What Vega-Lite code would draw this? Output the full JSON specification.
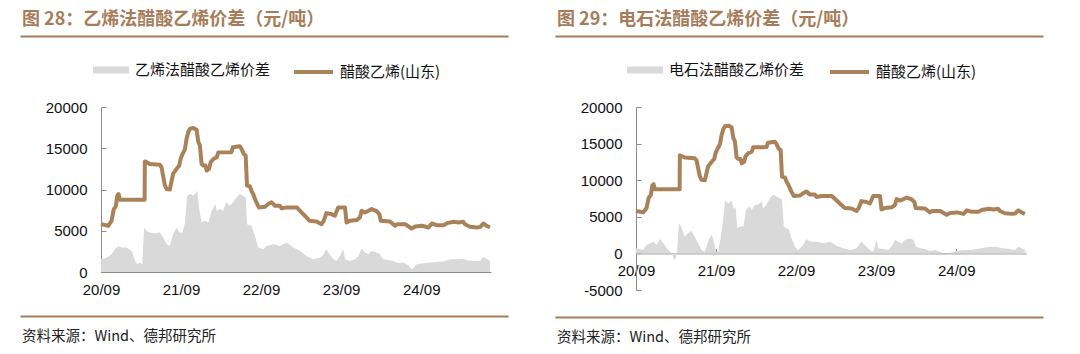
{
  "$schema": "https://vega.github.io/schema/vega-lite/v6.json",
  "background": "white",
  "padding": {"left": 20, "top": 10, "right": 0, "bottom": 0},
  "config": {
    "view": {"stroke": null},
    "font": "Noto Sans CJK SC",
    "axis": {
      "grid": false,
      "title": null,
      "labelFont": "Liberation Sans",
      "labelFontSize": 15,
      "labelColor": "#111111",
      "domainColor": "#8c8c8c",
      "tickColor": "#8c8c8c",
      "tickSize": -5,
      "labelFlush": false,
      "labelOverlap": false,
      "titlePadding": 0
    },
    "legend": {
      "orient": "none",
      "title": null,
      "padding": 0,
      "labelFont": "Noto Sans CJK SC",
      "labelFontSize": 15,
      "labelColor": "#111111",
      "labelLimit": 400
    }
  },
  "datasets": {
    "price": [
      {"date": "2020-09-01", "v": 5800}, {"date": "2020-10-04", "v": 5600}, {"date": "2020-10-19", "v": 6200},
      {"date": "2020-10-29", "v": 7600}, {"date": "2020-11-08", "v": 8000}, {"date": "2020-11-14", "v": 9250},
      {"date": "2020-11-20", "v": 9450}, {"date": "2020-11-26", "v": 8760}, {"date": "2021-03-19", "v": 8760},
      {"date": "2021-03-20", "v": 13400}, {"date": "2021-03-29", "v": 13300}, {"date": "2021-04-11", "v": 13100},
      {"date": "2021-05-27", "v": 13000}, {"date": "2021-06-04", "v": 12700}, {"date": "2021-06-11", "v": 11700},
      {"date": "2021-06-19", "v": 10550}, {"date": "2021-06-27", "v": 10060}, {"date": "2021-07-12", "v": 10000},
      {"date": "2021-07-19", "v": 10900}, {"date": "2021-07-27", "v": 11900}, {"date": "2021-08-12", "v": 12500},
      {"date": "2021-08-24", "v": 12900}, {"date": "2021-08-30", "v": 13700}, {"date": "2021-09-08", "v": 14300},
      {"date": "2021-09-19", "v": 14900}, {"date": "2021-09-26", "v": 16100}, {"date": "2021-10-04", "v": 16950},
      {"date": "2021-10-12", "v": 17360}, {"date": "2021-10-27", "v": 17450}, {"date": "2021-11-11", "v": 17240},
      {"date": "2021-11-19", "v": 15740}, {"date": "2021-11-26", "v": 15340}, {"date": "2021-12-04", "v": 13100},
      {"date": "2021-12-12", "v": 12900}, {"date": "2021-12-22", "v": 12900}, {"date": "2021-12-27", "v": 12300},
      {"date": "2022-01-07", "v": 12500}, {"date": "2022-01-14", "v": 13300}, {"date": "2022-01-27", "v": 13700},
      {"date": "2022-02-11", "v": 13900}, {"date": "2022-02-18", "v": 14500}, {"date": "2022-04-19", "v": 14520},
      {"date": "2022-04-26", "v": 15130}, {"date": "2022-05-27", "v": 15250}, {"date": "2022-06-04", "v": 14930},
      {"date": "2022-06-14", "v": 14320}, {"date": "2022-06-23", "v": 14120}, {"date": "2022-06-29", "v": 10470},
      {"date": "2022-07-12", "v": 10390}, {"date": "2022-07-19", "v": 9860}, {"date": "2022-07-30", "v": 9250},
      {"date": "2022-08-11", "v": 8440}, {"date": "2022-08-22", "v": 7830}, {"date": "2022-09-19", "v": 7910},
      {"date": "2022-10-04", "v": 8240}, {"date": "2022-10-19", "v": 8440}, {"date": "2022-11-04", "v": 8030},
      {"date": "2022-11-26", "v": 8030}, {"date": "2022-12-04", "v": 7710}, {"date": "2022-12-27", "v": 7830},
      {"date": "2023-02-11", "v": 7830}, {"date": "2023-02-26", "v": 7420}, {"date": "2023-03-27", "v": 6610},
      {"date": "2023-04-11", "v": 6200}, {"date": "2023-05-12", "v": 6130}, {"date": "2023-06-04", "v": 5800},
      {"date": "2023-06-14", "v": 6200}, {"date": "2023-06-26", "v": 7140}, {"date": "2023-07-19", "v": 7020},
      {"date": "2023-08-04", "v": 6820}, {"date": "2023-08-19", "v": 7830}, {"date": "2023-09-19", "v": 7830},
      {"date": "2023-09-26", "v": 6000}, {"date": "2023-10-11", "v": 6200}, {"date": "2023-11-11", "v": 6290},
      {"date": "2023-11-26", "v": 6610}, {"date": "2023-12-04", "v": 7420}, {"date": "2023-12-19", "v": 7220},
      {"date": "2024-01-04", "v": 7420}, {"date": "2024-01-19", "v": 7630}, {"date": "2024-02-08", "v": 7420},
      {"date": "2024-02-23", "v": 7020}, {"date": "2024-02-29", "v": 6200}, {"date": "2024-04-11", "v": 6130},
      {"date": "2024-05-04", "v": 5600}, {"date": "2024-05-14", "v": 5800}, {"date": "2024-06-19", "v": 5800},
      {"date": "2024-07-19", "v": 5270}, {"date": "2024-08-04", "v": 5520}, {"date": "2024-09-04", "v": 5600},
      {"date": "2024-10-04", "v": 5400}, {"date": "2024-10-19", "v": 5880}, {"date": "2024-11-11", "v": 5680},
      {"date": "2024-12-11", "v": 5680}, {"date": "2024-12-27", "v": 5920}, {"date": "2025-01-27", "v": 6090},
      {"date": "2025-02-18", "v": 6000}, {"date": "2025-03-11", "v": 6090}, {"date": "2025-03-19", "v": 5800},
      {"date": "2025-04-11", "v": 5480}, {"date": "2025-05-11", "v": 5400}, {"date": "2025-05-27", "v": 5450},
      {"date": "2025-06-11", "v": 5880}, {"date": "2025-06-26", "v": 5600}, {"date": "2025-07-11", "v": 5400}
    ],
    "spreadA": [
      {"date": "2020-09-01", "v": 1540}, {"date": "2020-09-27", "v": 1740}, {"date": "2020-10-19", "v": 2150},
      {"date": "2020-11-04", "v": 2760}, {"date": "2020-11-19", "v": 3160}, {"date": "2020-12-04", "v": 2960},
      {"date": "2020-12-27", "v": 2960}, {"date": "2021-01-19", "v": 2560}, {"date": "2021-02-04", "v": 1340},
      {"date": "2021-02-14", "v": 930}, {"date": "2021-02-26", "v": 1140}, {"date": "2021-03-08", "v": 930},
      {"date": "2021-03-17", "v": 5400}, {"date": "2021-03-26", "v": 5000}, {"date": "2021-04-11", "v": 4790},
      {"date": "2021-05-04", "v": 4700}, {"date": "2021-05-27", "v": 4790}, {"date": "2021-06-11", "v": 4180},
      {"date": "2021-06-27", "v": 3370}, {"date": "2021-07-12", "v": 3160}, {"date": "2021-07-27", "v": 4580},
      {"date": "2021-08-12", "v": 5400}, {"date": "2021-08-24", "v": 4790}, {"date": "2021-09-08", "v": 4790},
      {"date": "2021-09-19", "v": 6000}, {"date": "2021-09-29", "v": 9250}, {"date": "2021-10-12", "v": 9450},
      {"date": "2021-10-27", "v": 9250}, {"date": "2021-11-04", "v": 9450}, {"date": "2021-11-14", "v": 9860},
      {"date": "2021-11-23", "v": 7630}, {"date": "2021-12-04", "v": 6000}, {"date": "2021-12-19", "v": 6200},
      {"date": "2022-01-04", "v": 6000}, {"date": "2022-01-19", "v": 7420}, {"date": "2022-02-04", "v": 8240},
      {"date": "2022-02-11", "v": 7420}, {"date": "2022-02-26", "v": 7630}, {"date": "2022-03-11", "v": 7420},
      {"date": "2022-03-27", "v": 8440}, {"date": "2022-04-11", "v": 8030}, {"date": "2022-04-26", "v": 8440},
      {"date": "2022-05-12", "v": 9050}, {"date": "2022-05-27", "v": 9450}, {"date": "2022-06-11", "v": 9250},
      {"date": "2022-06-23", "v": 9050}, {"date": "2022-06-29", "v": 5800}, {"date": "2022-07-19", "v": 5600},
      {"date": "2022-08-04", "v": 4380}, {"date": "2022-08-19", "v": 2960}, {"date": "2022-09-11", "v": 2760},
      {"date": "2022-09-26", "v": 3160}, {"date": "2022-10-27", "v": 3370}, {"date": "2022-11-26", "v": 3160},
      {"date": "2022-12-27", "v": 3570}, {"date": "2023-01-27", "v": 2960}, {"date": "2023-02-26", "v": 2560},
      {"date": "2023-03-27", "v": 1950}, {"date": "2023-04-27", "v": 1540}, {"date": "2023-05-27", "v": 1740},
      {"date": "2023-06-11", "v": 2030}, {"date": "2023-06-26", "v": 2760}, {"date": "2023-07-11", "v": 2150},
      {"date": "2023-07-27", "v": 1620}, {"date": "2023-08-12", "v": 1340}, {"date": "2023-08-27", "v": 1950},
      {"date": "2023-09-11", "v": 2760}, {"date": "2023-09-19", "v": 1540}, {"date": "2023-10-11", "v": 1340},
      {"date": "2023-11-04", "v": 1540}, {"date": "2023-11-19", "v": 1950}, {"date": "2023-12-04", "v": 2840},
      {"date": "2023-12-19", "v": 2350}, {"date": "2024-01-04", "v": 2150}, {"date": "2024-01-19", "v": 2560},
      {"date": "2024-02-11", "v": 2350}, {"date": "2024-02-26", "v": 2150}, {"date": "2024-03-11", "v": 1540},
      {"date": "2024-04-04", "v": 1460}, {"date": "2024-04-27", "v": 1340}, {"date": "2024-05-19", "v": 1050},
      {"date": "2024-06-11", "v": 1140}, {"date": "2024-07-04", "v": 810}, {"date": "2024-07-19", "v": 320},
      {"date": "2024-07-29", "v": 530}, {"date": "2024-08-11", "v": 930}, {"date": "2024-09-11", "v": 1050},
      {"date": "2024-10-11", "v": 1140}, {"date": "2024-11-11", "v": 1220}, {"date": "2024-12-11", "v": 1260},
      {"date": "2025-01-11", "v": 1540}, {"date": "2025-02-11", "v": 1540}, {"date": "2025-03-11", "v": 1620},
      {"date": "2025-03-27", "v": 1420}, {"date": "2025-04-27", "v": 1340}, {"date": "2025-05-27", "v": 1340},
      {"date": "2025-06-11", "v": 1830}, {"date": "2025-06-26", "v": 1620}, {"date": "2025-07-11", "v": 1340}
    ],
    "spreadB": [
      {"date": "2020-09-01", "v": 690}, {"date": "2020-09-19", "v": 600}, {"date": "2020-10-04", "v": 460},
      {"date": "2020-10-19", "v": 1140}, {"date": "2020-11-04", "v": 1370}, {"date": "2020-11-19", "v": 1600},
      {"date": "2020-12-04", "v": 1140}, {"date": "2020-12-19", "v": 1970}, {"date": "2021-01-04", "v": 1370},
      {"date": "2021-01-19", "v": 690}, {"date": "2021-02-04", "v": 230}, {"date": "2021-02-15", "v": -230},
      {"date": "2021-02-21", "v": -915}, {"date": "2021-03-01", "v": -690}, {"date": "2021-03-07", "v": 0},
      {"date": "2021-03-16", "v": 4120}, {"date": "2021-03-26", "v": 3660}, {"date": "2021-04-11", "v": 2290},
      {"date": "2021-04-26", "v": 2750}, {"date": "2021-05-12", "v": 3070}, {"date": "2021-05-27", "v": 2290},
      {"date": "2021-06-11", "v": 1370}, {"date": "2021-06-27", "v": 460}, {"date": "2021-07-12", "v": 230},
      {"date": "2021-07-27", "v": 1600}, {"date": "2021-08-12", "v": 2610}, {"date": "2021-08-22", "v": 1600},
      {"date": "2021-09-01", "v": 230}, {"date": "2021-09-11", "v": 230}, {"date": "2021-09-22", "v": 2060},
      {"date": "2021-10-04", "v": 4800}, {"date": "2021-10-12", "v": 7180}, {"date": "2021-10-27", "v": 6860},
      {"date": "2021-11-11", "v": 7180}, {"date": "2021-11-22", "v": 5950}, {"date": "2021-11-29", "v": 6410},
      {"date": "2021-12-07", "v": 3430}, {"date": "2021-12-19", "v": 3660}, {"date": "2022-01-04", "v": 3660},
      {"date": "2022-01-16", "v": 5950}, {"date": "2022-02-01", "v": 6410}, {"date": "2022-02-11", "v": 5950},
      {"date": "2022-02-26", "v": 6630}, {"date": "2022-03-11", "v": 6630}, {"date": "2022-03-27", "v": 7090},
      {"date": "2022-04-04", "v": 6180}, {"date": "2022-04-19", "v": 6630}, {"date": "2022-05-04", "v": 7550},
      {"date": "2022-05-19", "v": 8010}, {"date": "2022-06-04", "v": 7780}, {"date": "2022-06-19", "v": 7550},
      {"date": "2022-06-29", "v": 7320}, {"date": "2022-07-07", "v": 3660}, {"date": "2022-07-19", "v": 3430},
      {"date": "2022-08-01", "v": 3200}, {"date": "2022-08-11", "v": 2060}, {"date": "2022-08-27", "v": 915},
      {"date": "2022-09-11", "v": 460}, {"date": "2022-10-04", "v": 1140}, {"date": "2022-10-19", "v": 1970},
      {"date": "2022-11-04", "v": 1600}, {"date": "2022-12-04", "v": 1600}, {"date": "2023-01-04", "v": 1370},
      {"date": "2023-02-04", "v": 1600}, {"date": "2023-03-04", "v": 1050}, {"date": "2023-04-04", "v": 690},
      {"date": "2023-05-04", "v": 460}, {"date": "2023-06-04", "v": 690}, {"date": "2023-06-26", "v": 1600},
      {"date": "2023-07-11", "v": 1140}, {"date": "2023-08-04", "v": 460}, {"date": "2023-08-19", "v": 230},
      {"date": "2023-09-04", "v": 1830}, {"date": "2023-09-11", "v": 690}, {"date": "2023-10-04", "v": 600},
      {"date": "2023-10-27", "v": 460}, {"date": "2023-11-11", "v": 915}, {"date": "2023-11-26", "v": 1830},
      {"date": "2023-12-11", "v": 1600}, {"date": "2023-12-27", "v": 1370}, {"date": "2024-01-11", "v": 1830},
      {"date": "2024-02-01", "v": 2060}, {"date": "2024-02-19", "v": 1830}, {"date": "2024-03-01", "v": 915},
      {"date": "2024-03-19", "v": 690}, {"date": "2024-04-11", "v": 600}, {"date": "2024-05-04", "v": 320},
      {"date": "2024-05-27", "v": 460}, {"date": "2024-06-19", "v": 230}, {"date": "2024-07-04", "v": 0},
      {"date": "2024-07-27", "v": 0}, {"date": "2024-08-19", "v": 230}, {"date": "2024-09-04", "v": 370},
      {"date": "2024-10-04", "v": 460}, {"date": "2024-11-04", "v": 460}, {"date": "2024-12-04", "v": 600},
      {"date": "2025-01-04", "v": 780}, {"date": "2025-02-04", "v": 915}, {"date": "2025-03-04", "v": 870},
      {"date": "2025-04-04", "v": 690}, {"date": "2025-05-04", "v": 600}, {"date": "2025-05-27", "v": 460},
      {"date": "2025-06-11", "v": 915}, {"date": "2025-06-26", "v": 690}, {"date": "2025-07-11", "v": 460}
    ],
    "blank": [{"t": ""}]
  },
  "spacing": -34,
  "resolve": {"scale": {"fill": "independent", "stroke": "independent", "x": "independent", "y": "independent"}, "legend": {"fill": "independent", "stroke": "independent"}},
  "hconcat": [
    {
      "spacing": 8,
      "resolve": {"scale": {"fill": "independent", "stroke": "independent", "x": "independent", "y": "independent"}, "legend": {"fill": "independent", "stroke": "independent"}},
      "vconcat": [
        {
          "width": 390, "height": 1,
          "title": {"text": "图 28：乙烯法醋酸乙烯价差（元/吨）", "anchor": "start", "frame": "bounds", "fontSize": 18, "fontWeight": "bold", "color": "#a67c5a", "offset": 2, "dx": 2},
          "data": {"name": "blank"},
          "mark": {"type": "text"},
          "encoding": {
            "x": {"datum": 0, "type": "quantitative", "scale": {"domain": [0, 1], "range": [-81, 407]},
              "axis": {"orient": "top", "labels": false, "ticks": false, "domainColor": "#a67c5a", "domainWidth": 2}},
            "text": {"field": "t"}
          }
        },
        {
          "spacing": 13,
          "resolve": {"scale": {"fill": "independent", "stroke": "independent", "x": "independent", "y": "independent"}, "legend": {"fill": "independent", "stroke": "independent"}},
          "vconcat": [
            {
              "width": 390, "height": 165,
              "layer": [
                {
                  "data": {"name": "spreadA"},
                  "mark": {"type": "area", "interpolate": "linear"},
                  "encoding": {
                    "x": {"field": "date", "type": "temporal",
                      "scale": {"domain": [{"year": 2020, "month": 9, "date": 1}, {"year": 2025, "month": 7, "date": 16}], "nice": false},
                      "axis": {"values": [{"year": 2020, "month": 9, "date": 1}, {"year": 2021, "month": 9, "date": 1}, {"year": 2022, "month": 9, "date": 1}, {"year": 2023, "month": 9, "date": 1}, {"year": 2024, "month": 9, "date": 1}], "format": "%y/%m", "labelPadding": 15, "labelOverlap": false}},
                    "y": {"field": "v", "type": "quantitative",
                      "scale": {"domain": [0, 20000], "nice": false},
                      "axis": {"values": [0, 5000, 10000, 15000, 20000], "format": "d", "labelPadding": 19, "minExtent": 81, "labelOverlap": false}},
                    "fill": {"datum": "乙烯法醋酸乙烯价差", "scale": {"range": ["#d9d9d9"]},
                      "legend": {"legendX": -8, "legendY": -55, "symbolType": "M-1,-0.2H1V0.2H-1Z", "symbolSize": 1296, "symbolStrokeWidth": 0, "symbolOpacity": 1, "labelOffset": 6}}
                  }
                },
                {
                  "data": {"name": "price"},
                  "mark": {"type": "line", "strokeWidth": 4, "strokeJoin": "round"},
                  "encoding": {
                    "x": {"field": "date", "type": "temporal"},
                    "y": {"field": "v", "type": "quantitative"},
                    "stroke": {"datum": "醋酸乙烯(山东)", "scale": {"range": ["#aa825a"]},
                      "legend": {"legendX": 191, "legendY": -56.5, "symbolType": "stroke", "symbolSize": 1521, "symbolStrokeWidth": 4, "labelOffset": 5}}
                  }
                }
              ]
            },
            {
              "width": 390, "height": 1,
              "title": {"text": "资料来源：Wind、德邦研究所", "orient": "bottom", "anchor": "start", "frame": "bounds", "fontSize": 14.5, "fontWeight": "normal", "color": "#222222", "offset": 8, "dx": 2},
              "data": {"name": "blank"},
              "mark": {"type": "text"},
              "encoding": {
                "x": {"datum": 0, "type": "quantitative", "scale": {"domain": [0, 1], "range": [-81, 407]},
                  "axis": {"orient": "top", "labels": false, "ticks": false, "domainColor": "#a67c5a", "domainWidth": 2}},
                "text": {"field": "t"}
              }
            }
          ]
        }
      ]
    },
    {
      "spacing": 8,
      "resolve": {"scale": {"fill": "independent", "stroke": "independent", "x": "independent", "y": "independent"}, "legend": {"fill": "independent", "stroke": "independent"}},
      "vconcat": [
        {
          "width": 390, "height": 1,
          "title": {"text": "图 29：电石法醋酸乙烯价差（元/吨）", "anchor": "start", "frame": "bounds", "fontSize": 18, "fontWeight": "bold", "color": "#a67c5a", "offset": 2, "dx": 2},
          "data": {"name": "blank"},
          "mark": {"type": "text"},
          "encoding": {
            "x": {"datum": 0, "type": "quantitative", "scale": {"domain": [0, 1], "range": [-81, 407]},
              "axis": {"orient": "top", "labels": false, "ticks": false, "domainColor": "#a67c5a", "domainWidth": 2}},
            "text": {"field": "t"}
          }
        },
        {
          "spacing": 13,
          "resolve": {"scale": {"fill": "independent", "stroke": "independent", "x": "independent", "y": "independent"}, "legend": {"fill": "independent", "stroke": "independent"}},
          "vconcat": [
            {
              "width": 390, "height": 183,
              "layer": [
                {
                  "data": {"name": "spreadB"},
                  "mark": {"type": "area", "interpolate": "linear"},
                  "encoding": {
                    "x": {"field": "date", "type": "temporal",
                      "scale": {"domain": [{"year": 2020, "month": 9, "date": 1}, {"year": 2025, "month": 7, "date": 16}], "nice": false},
                      "axis": {"values": [{"year": 2020, "month": 9, "date": 1}, {"year": 2021, "month": 9, "date": 1}, {"year": 2022, "month": 9, "date": 1}, {"year": 2023, "month": 9, "date": 1}, {"year": 2024, "month": 9, "date": 1}], "format": "%y/%m", "labelPadding": 15, "offset": -36.6, "labelOverlap": false}},
                    "y": {"field": "v", "type": "quantitative",
                      "scale": {"domain": [-5000, 20000], "nice": false},
                      "axis": {"tickCount": 5, "format": "d", "labelExpr": "replace(datum.label, '−', '-')", "labelPadding": 19, "minExtent": 81, "labelOverlap": false, "labelSeparation": 0}},
                    "fill": {"datum": "电石法醋酸乙烯价差", "scale": {"range": ["#d9d9d9"]},
                      "legend": {"legendX": -9, "legendY": -55, "symbolType": "M-1,-0.2H1V0.2H-1Z", "symbolSize": 1296, "symbolStrokeWidth": 0, "symbolOpacity": 1, "labelOffset": 6}}
                  }
                },
                {
                  "data": {"name": "price"},
                  "mark": {"type": "line", "strokeWidth": 4, "strokeJoin": "round"},
                  "encoding": {
                    "x": {"field": "date", "type": "temporal"},
                    "y": {"field": "v", "type": "quantitative"},
                    "stroke": {"datum": "醋酸乙烯(山东)", "scale": {"range": ["#aa825a"]},
                      "legend": {"legendX": 192, "legendY": -56.5, "symbolType": "stroke", "symbolSize": 1521, "symbolStrokeWidth": 4, "labelOffset": 5}}
                  }
                }
              ]
            },
            {
              "width": 390, "height": 1,
              "title": {"text": "资料来源：Wind、德邦研究所", "orient": "bottom", "anchor": "start", "frame": "bounds", "fontSize": 14.5, "fontWeight": "normal", "color": "#222222", "offset": 8, "dx": 2},
              "data": {"name": "blank"},
              "mark": {"type": "text"},
              "encoding": {
                "x": {"datum": 0, "type": "quantitative", "scale": {"domain": [0, 1], "range": [-81, 407]},
                  "axis": {"orient": "top", "labels": false, "ticks": false, "domainColor": "#a67c5a", "domainWidth": 2}},
                "text": {"field": "t"}
              }
            }
          ]
        }
      ]
    }
  ]
}
